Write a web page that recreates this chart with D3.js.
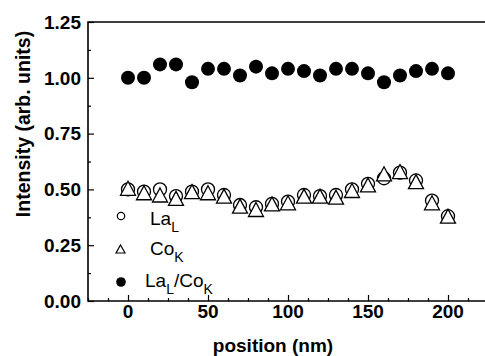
<!DOCTYPE html>
<html>
<head>
<meta charset="utf-8">
<script src="https://cdn.jsdelivr.net/npm/d3@7"></script>
<style>
  body { margin: 0; background: #fff; }
  text { font-family: "Liberation Sans", Arial, sans-serif; font-weight: bold; fill: #000; }
</style>
</head>
<body>
<div id="chart"></div>
<script>
// data
const positions = [0, 10, 20, 30, 40, 50, 60, 70, 80, 90, 100, 110, 120, 130, 140, 150, 160, 170, 180, 190, 200];
const laL = [0.50, 0.49, 0.50, 0.47, 0.49, 0.50, 0.475, 0.43, 0.42, 0.435, 0.445, 0.475, 0.47, 0.475, 0.50, 0.525, 0.55, 0.575, 0.54, 0.45, 0.38];
const coK = [0.505, 0.485, 0.475, 0.46, 0.49, 0.485, 0.47, 0.425, 0.41, 0.435, 0.44, 0.47, 0.47, 0.465, 0.495, 0.52, 0.57, 0.58, 0.535, 0.44, 0.38];
const ratio = [1.00, 1.00, 1.06, 1.06, 0.98, 1.04, 1.04, 1.01, 1.05, 1.02, 1.04, 1.03, 1.01, 1.04, 1.04, 1.02, 0.98, 1.01, 1.03, 1.04, 1.02];
const xTicks = [0, 50, 100, 150, 200];
const yTicks = [0, 0.25, 0.5, 0.75, 1.0, 1.25];

const width = 485, height = 356;
const mLeft = 88, mRight = 488, mTop = 22, mBottom = 301;

const svg = d3.select("#chart").append("svg")
  .attr("width", width)
  .attr("height", height);

svg.append("rect").attr("width", width).attr("height", height).style("fill", "white");

const scaleX = d3.scaleLinear().domain([-25, 225]).range([mLeft, mRight]);
const scaleY = d3.scaleLinear().domain([0, 1.25]).range([mBottom, mTop]);

// minor ticks
const xMinor = d3.range(-25, 226, 12.5).filter(v => xTicks.indexOf(v) < 0);
const yMinor = d3.range(0.125, 1.25, 0.25);

// x axis, ticks pointing inward
const xa = svg.append("g").attr("transform", "translate(0," + mBottom + ")")
  .call(d3.axisTop(scaleX).tickValues(xTicks).tickSize(6).tickFormat(""));
xa.select(".domain").remove();
xa.selectAll("line").style("stroke", "#000").style("stroke-width", "1.2px");
svg.append("g").attr("transform", "translate(0," + mBottom + ")")
  .call(d3.axisTop(scaleX).tickValues(xMinor).tickSize(3).tickFormat(""))
  .call(g => g.select(".domain").remove())
  .selectAll("line").style("stroke", "#000").style("stroke-width", "1.2px");

svg.append("g").selectAll("text")
  .data(xTicks)
  .join("text")
  .attr("x", d => scaleX(d))
  .attr("y", 318)
  .attr("text-anchor", "middle")
  .style("font-size", "19px")
  .text(d => d);

// y axis
const ya = svg.append("g").attr("transform", "translate(" + mLeft + ",0)")
  .call(d3.axisRight(scaleY).tickValues(yTicks).tickSize(6).tickFormat(""));
ya.select(".domain").remove();
ya.selectAll("line").style("stroke", "#000").style("stroke-width", "1.2px");
svg.append("g").attr("transform", "translate(" + mLeft + ",0)")
  .call(d3.axisRight(scaleY).tickValues(yMinor).tickSize(3).tickFormat(""))
  .call(g => g.select(".domain").remove())
  .selectAll("line").style("stroke", "#000").style("stroke-width", "1.2px");

svg.append("g").selectAll("text")
  .data(yTicks)
  .join("text")
  .attr("x", 81)
  .attr("y", d => scaleY(d) + 6.8)
  .attr("text-anchor", "end")
  .style("font-size", "19px")
  .text(d => d3.format(".2f")(d));

// frame (left, bottom, top)
svg.append("path")
  .attr("d", "M" + mRight + "," + mTop + "H" + mLeft + "V" + mBottom + "H" + mRight)
  .style("fill", "none")
  .style("stroke", "#000")
  .style("stroke-width", "1.6px");

// axis titles
svg.append("text")
  .attr("x", 273)
  .attr("y", 352)
  .attr("text-anchor", "middle")
  .style("font-size", "19px")
  .text("position (nm)");

svg.append("text")
  .attr("transform", "translate(30,124) rotate(-90)")
  .attr("text-anchor", "middle")
  .style("font-size", "19.5px")
  .text("Intensity (arb. units)");

const tri = (cx, cy, h, w) =>
  "M" + cx + "," + (cy - h / 2) + "L" + (cx + w / 2) + "," + (cy + h / 2) + "L" + (cx - w / 2) + "," + (cy + h / 2) + "Z";

// La_L open circles
svg.append("g").selectAll("circle")
  .data(positions)
  .join("circle")
  .attr("cx", (d) => scaleX(d))
  .attr("cy", (d, i) => scaleY(laL[i]))
  .attr("r", 6.5)
  .style("fill", "white")
  .style("stroke", "#000")
  .style("stroke-width", "1.3px");

// Co_K open triangles
svg.append("g").selectAll("path")
  .data(positions)
  .join("path")
  .attr("d", (d, i) => tri(scaleX(d), scaleY(coK[i]), 14, 15))
  .style("fill", "white")
  .style("stroke", "#000")
  .style("stroke-width", "1.3px");

// ratio filled circles
svg.append("g").selectAll("circle")
  .data(positions)
  .join("circle")
  .attr("cx", (d) => scaleX(d))
  .attr("cy", (d, i) => scaleY(ratio[i]))
  .attr("r", 7)
  .style("fill", "#000");

// legend
const legend = svg.append("g");
legend.append("circle").attr("cx", 121).attr("cy", 216).attr("r", 3.7)
  .style("fill", "white").style("stroke", "#000").style("stroke-width", "1.2px");
legend.append("path").attr("d", tri(120.5, 249, 8, 9))
  .style("fill", "white").style("stroke", "#000").style("stroke-width", "1.2px");
legend.append("circle").attr("cx", 121).attr("cy", 282).attr("r", 4.8).style("fill", "#000");

const legendText = (x, y, parts) => {
  const t = legend.append("text").attr("x", x).attr("y", y)
    .style("font-size", "19px").style("font-weight", "normal");
  parts.forEach(p => {
    t.append("tspan")
      .attr("dy", p.sub ? 7 : (p.back ? -7 : 0))
      .style("font-size", p.sub ? "14px" : "19px")
      .text(p.t);
  });
};
legendText(150, 225, [{ t: "La" }, { t: "L", sub: true }]);
legendText(150, 255, [{ t: "Co" }, { t: "K", sub: true }]);
legendText(145, 287, [{ t: "La" }, { t: "L", sub: true }, { t: "/Co", back: true }, { t: "K", sub: true }]);
</script>
</body>
</html>
